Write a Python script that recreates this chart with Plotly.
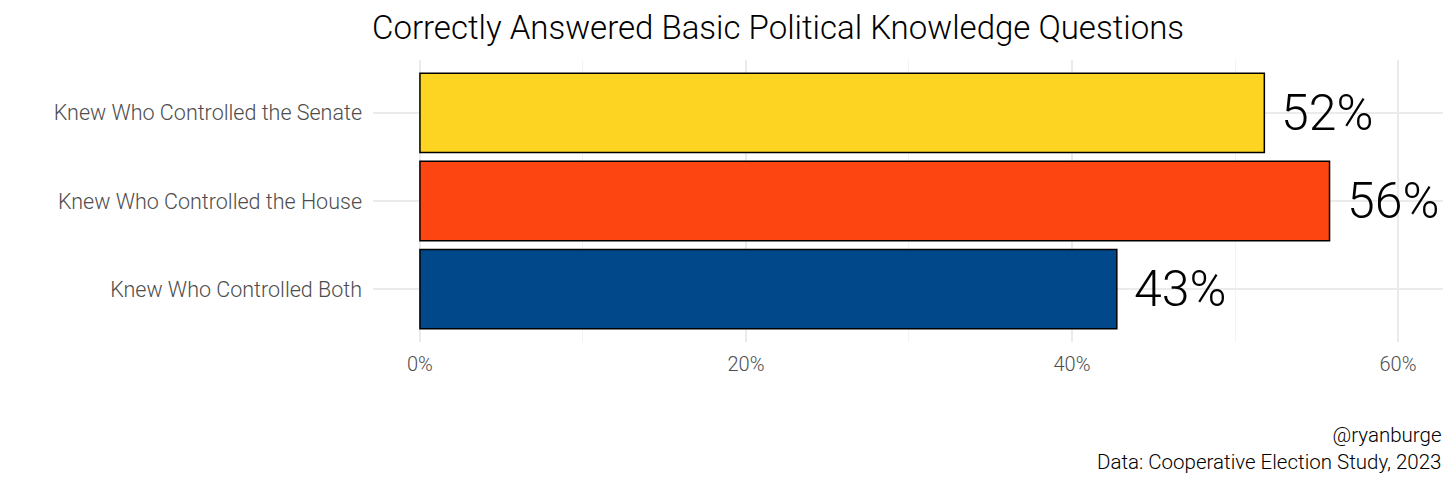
import plotly.graph_objects as go

categories = ["Knew Who Controlled Both", "Knew Who Controlled the House", "Knew Who Controlled the Senate"]
values = [42.75, 55.8, 51.8]
labels = ["43%", "56%", "52%"]
colors = ["#00488A", "#FC4511", "#FDD422"]
tick_vals = [0, 20, 40, 60]
tick_text = ["0%", "20%", "40%", "60%"]

FONT = "Roboto, sans-serif"

fig = go.Figure()
fig.add_trace(go.Bar(
    y=categories, x=values, orientation="h",
    marker=dict(color=colors, line=dict(color="black", width=1.5)),
    width=0.9, hoverinfo="skip",
))
for c, v, t in zip(categories, values, labels):
    fig.add_annotation(x=v, y=c, text=t, showarrow=False, xanchor="left",
                       xshift=15, font=dict(family=FONT, size=50, color="black", weight=300))

fig.update_layout(
    width=1456, height=486,
    margin=dict(l=373, r=13, t=60, b=144),
    plot_bgcolor="white", paper_bgcolor="white",
    showlegend=False,
    title=dict(text="Correctly Answered Basic Political Knowledge Questions",
               x=372/1456, xanchor="left", y=1-27/486, yanchor="middle",
               font=dict(family=FONT, size=33, color="black", weight=300)),
    font=dict(family=FONT, weight=300),
)
fig.update_xaxes(range=[-2.88, 62.76], tickvals=tick_vals, ticktext=tick_text,
                 tickfont=dict(family=FONT, size=20, color="#4d4d4d", weight=300),
                 showgrid=True, gridcolor="#ebebeb", gridwidth=1.5,
                 minor=dict(tickvals=[10, 30, 50], showgrid=True, gridcolor="#f3f3f3", gridwidth=1),
                 zeroline=False, showline=False, ticks="", ticklabelstandoff=8)
fig.update_yaxes(range=[-0.6, 2.6], categoryorder="array", categoryarray=categories,
                 tickfont=dict(family=FONT, size=21.5, color="#4d4d4d", weight=300),
                 showgrid=True, gridcolor="#ebebeb", gridwidth=1.5,
                 zeroline=False, showline=False, ticks="", ticklabelstandoff=10)

fig.add_annotation(text="@ryanburge<br>Data: Cooperative Election Study, 2023",
                   xref="paper", yref="paper",
                   x=(1444 - 373) / (1456 - 373 - 13), y=-(421 - 342) / (342 - 60),
                   xanchor="right", yanchor="top", align="right", showarrow=False,
                   font=dict(family=FONT, size=20.5, color="black", weight=300))

fig.write_html("out.html", config={"displayModeBar": False},
               post_script="document.body.style.margin='0';document.body.style.overflow='hidden';")
